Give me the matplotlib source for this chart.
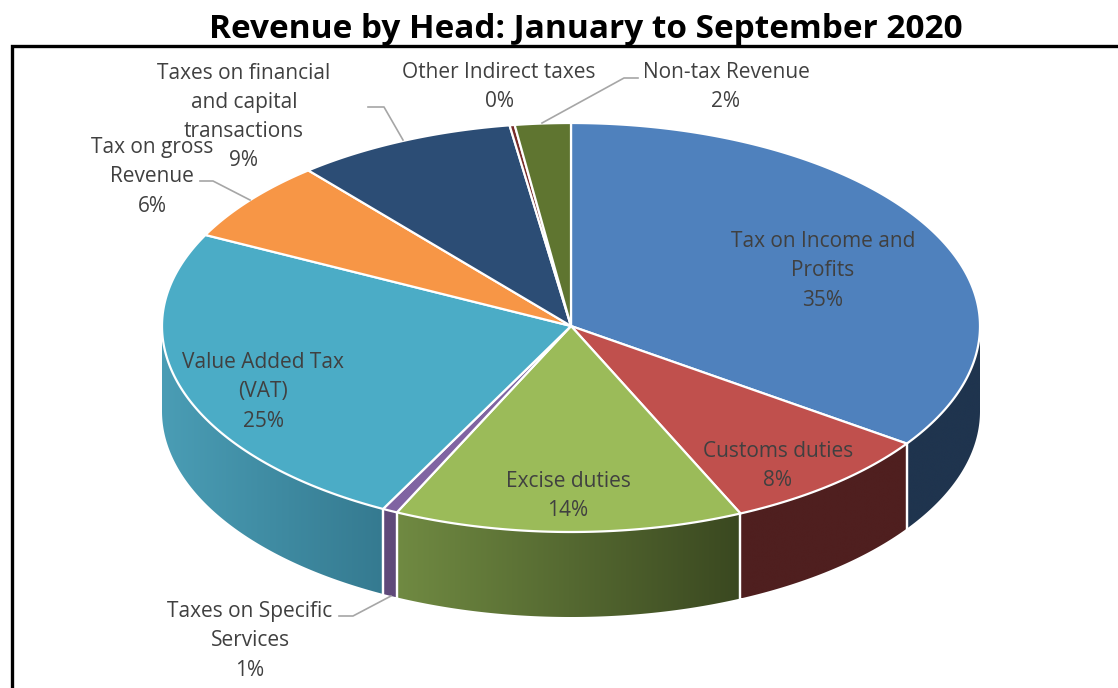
import numpy as np
import matplotlib
matplotlib.use("Agg")
import matplotlib.pyplot as plt
from matplotlib.colors import LinearSegmentedColormap
from matplotlib.patches import Polygon

plt.rcParams["font.family"] = ["Open Sans", "DejaVu Sans"]

# data, clockwise from 12 o'clock
heads = ["Tax on Income and\nProfits", "Customs duties", "Excise duties",
         "Taxes on Specific\nServices", "Value Added Tax\n(VAT)", "Tax on gross\nRevenue",
         "Taxes on financial\nand capital\ntransactions", "Other Indirect taxes", "Non-tax Revenue"]
shares = [34.67, 8.53, 13.8, 0.6, 24.8, 6.5, 8.7, 0.2, 2.2]
pct_labels = ["35%", "8%", "14%", "1%", "25%", "6%", "9%", "0%", "2%"]
top_colors = ["#4f81bd", "#c0504d", "#9bbb59", "#8064a2", "#4bacc6", "#f79646",
              "#2c4d75", "#772c2a", "#5f7530"]
side_left = ["#1f344e", "#4f1f1f", "#708a42", "#5f4a7a", "#4a9db5", "#b06a30",
             "#1f344e", "#4f1f1f", "#46561f"]
side_right = ["#1f344e", "#4f1f1f", "#3a4820", "#5f4a7a", "#357a90", "#b06a30",
              "#1f344e", "#4f1f1f", "#46561f"]

# label position in px, leader line (None = no leader)
label_xy = [(823, 271), (778, 466), (568, 496), (250, 641), (263, 392), (152, 177),
            (244, 117), (499, 87), (726, 87)]
leaders = [None, None, None, [(339, 616), (353, 616), (391, 596)], None,
           [(200, 181), (213, 181), (250, 200)],
           [(368, 107), (384, 107), (403, 140)], None,
           [(638, 78), (624, 78), (542, 123)]]

cx, cy, rx, depth = 571, 326, 409, 85
ry_back, ry_front = 203, 206


def rim(a):
    c = np.cos(a)
    return cx + rx * np.sin(a), cy - np.where(c > 0, ry_back, ry_front) * c


fig = plt.figure(figsize=(11.18, 6.88), dpi=100)
ax = fig.add_axes([0, 0, 1, 1])

fracs = np.array(shares) / sum(shares)
edges = np.concatenate([[0], np.cumsum(fracs)]) * 2 * np.pi

# side wall, only the front half of the pie shows
for i in range(len(shares)):
    a0 = max(edges[i], np.pi / 2)
    a1 = min(edges[i + 1], 3 * np.pi / 2)
    if a1 <= a0:
        continue
    aa = np.linspace(a0, a1, 200)
    xs, ys = rim(aa)
    outline = list(zip(xs, ys)) + list(zip(xs[::-1], ys[::-1] + depth))
    clip = Polygon(outline, closed=True, transform=ax.transData, facecolor="none", edgecolor="none")
    ax.add_patch(clip)
    # gradient runs left to right, image is clipped to the wall piece
    cmap = LinearSegmentedColormap.from_list("wall", [side_left[i], side_right[i]])
    im = ax.imshow(np.linspace(0, 1, 256)[None, :], cmap=cmap, aspect="auto", interpolation="bilinear",
                   extent=(xs.min(), xs.max(), ys.max() + depth, ys.min()), zorder=2)
    im.set_clip_path(clip)
    # white seams between the wall pieces
    for a in (edges[i], edges[i + 1]):
        if np.pi / 2 < a < 3 * np.pi / 2:
            x, y = rim(a)
            ax.plot([x, x], [y, y + depth], color="white", lw=1.6, zorder=3)

ax.set_xlim(0, 1118)
ax.set_ylim(688, 0)
ax.axis("off")

# top face
for i in range(len(shares)):
    aa = np.linspace(edges[i], edges[i + 1], max(int((edges[i + 1] - edges[i]) * 100), 2) + 1)
    xs, ys = rim(aa)
    pts = [(cx, cy)] + list(zip(xs, ys))
    ax.add_patch(Polygon(pts, closed=True, facecolor=top_colors[i], edgecolor="white",
                         lw=1.6, joinstyle="round", zorder=4))

# leader lines and labels
for i in range(len(heads)):
    if leaders[i] is not None:
        lx, ly = zip(*leaders[i])
        ax.plot(lx, ly, color="#a6a6a6", lw=1.2, zorder=5)
    ax.text(label_xy[i][0], label_xy[i][1], heads[i] + "\n" + pct_labels[i], ha="center", va="center",
            fontsize=15, color="#404040", linespacing=1.52, zorder=6)

# frame around the chart, open on right and bottom
ax.plot([12, 12, 1118], [688, 46, 46], color="black", lw=2.4, solid_joinstyle="miter", zorder=7)

ax.text(586, 29, "Revenue by Head: January to September 2020", ha="center", va="center",
        fontsize=24, fontweight="bold", color="black", zorder=8)

fig.savefig("out.png", dpi=100)
